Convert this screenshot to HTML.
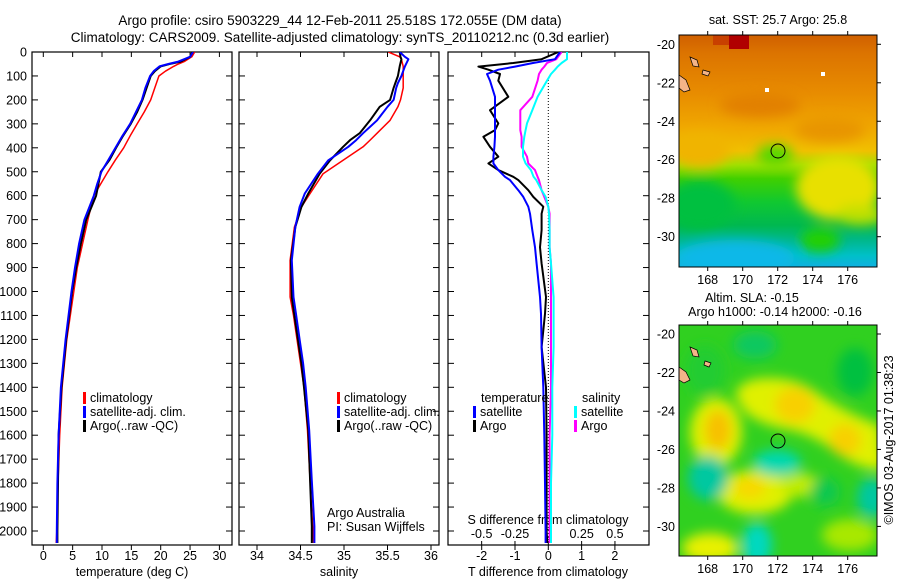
<!DOCTYPE html>
<html><head><meta charset="utf-8">
<style>
html,body{margin:0;padding:0;background:#fff;}
svg{display:block;font-family:"Liberation Sans",Arial,sans-serif;}
</style></head>
<body>
<svg id="chart" width="900" height="580" viewBox="0 0 900 580" xmlns="http://www.w3.org/2000/svg">
<defs>
  <clipPath id="c1"><rect x="32" y="52" width="200" height="493"/></clipPath>
  <clipPath id="c2"><rect x="239" y="52" width="200" height="493"/></clipPath>
  <clipPath id="c3"><rect x="448" y="52" width="201" height="493"/></clipPath>
  <clipPath id="m1"><rect x="679" y="35" width="198" height="232"/></clipPath>
  <clipPath id="m2"><rect x="679" y="325" width="198" height="231"/></clipPath>
  <filter id="blur8" x="-50%" y="-50%" width="200%" height="200%"><feGaussianBlur stdDeviation="8"/></filter>
  <filter id="blur6" x="-50%" y="-50%" width="200%" height="200%"><feGaussianBlur stdDeviation="6"/></filter>
  <linearGradient id="sstg" x1="0" y1="0" x2="0" y2="1">
    <stop offset="0" stop-color="#d06000"/>
    <stop offset="0.08" stop-color="#dc7400"/>
    <stop offset="0.25" stop-color="#e88c00"/>
    <stop offset="0.4" stop-color="#f0a800"/>
    <stop offset="0.5" stop-color="#f0c000"/>
    <stop offset="0.56" stop-color="#a0e000"/>
    <stop offset="0.62" stop-color="#40d000"/>
    <stop offset="0.72" stop-color="#10c830"/>
    <stop offset="0.82" stop-color="#00b850"/>
    <stop offset="0.89" stop-color="#00b890"/>
    <stop offset="0.95" stop-color="#00c0c8"/>
    <stop offset="1" stop-color="#10b0e0"/>
  </linearGradient>
</defs>

<text x="340" y="25" font-size="13.5" text-anchor="middle">Argo profile: csiro 5903229_44 12-Feb-2011 25.518S 172.055E (DM data)</text>
<text x="340" y="42" font-size="13.5" text-anchor="middle">Climatology: CARS2009. Satellite-adjusted climatology: synTS_20110212.nc (0.3d earlier)</text>

<g id="p1"></g>
<g id="p2"></g>
<g id="p3"></g>

<!-- SST map -->
<g>
  <text x="778" y="24" font-size="12.5" text-anchor="middle">sat. SST: 25.7 Argo: 25.8</text>
  <g clip-path="url(#m1)">
    <rect x="679" y="35" width="198" height="232" fill="url(#sstg)"/>
    <g filter="url(#blur6)">
      <ellipse cx="838" cy="188" rx="42" ry="32" fill="#e8e000"/>
      <ellipse cx="860" cy="215" rx="25" ry="10" fill="#c0e000"/>
      <ellipse cx="700" cy="150" rx="30" ry="18" fill="#f0b400"/>
      <ellipse cx="700" cy="205" rx="35" ry="25" fill="#00c040"/>
      <ellipse cx="735" cy="258" rx="60" ry="18" fill="#10b8e8"/>
      <ellipse cx="760" cy="105" rx="40" ry="12" fill="#e28000"/>
      <ellipse cx="830" cy="130" rx="35" ry="12" fill="#e89400"/>
      <ellipse cx="775" cy="155" rx="18" ry="10" fill="#50d800"/>
      <ellipse cx="820" cy="240" rx="20" ry="12" fill="#20d000"/>
    </g>
    <rect x="729" y="35" width="20" height="14" fill="#b00000"/>
    <rect x="713" y="35" width="16" height="10" fill="#c84000"/>
    <path d="M679,75 L686,80 L690,90 L684,92 L679,88 Z" fill="#f4b488" stroke="#000" stroke-width="0.7"/>
    <path d="M690,57 L697,60 L699,67 L693,66 Z" fill="#f4b488" stroke="#000" stroke-width="0.7"/>
    <path d="M703,70 L710,72 L708,76 L702,74 Z" fill="#f4b488" stroke="#000" stroke-width="0.7"/>
    <rect x="765" y="88" width="4" height="4" fill="#fff"/>
    <rect x="821" y="72" width="4" height="4" fill="#fff"/>
  </g>
  <rect x="679" y="35" width="198" height="232" fill="none" stroke="#000" stroke-width="1"/>
  <circle cx="778" cy="151" r="7" fill="none" stroke="#000" stroke-width="1"/>
  <g id="m1ax"></g>
</g>

<!-- SLA map -->
<g>
  <text x="752" y="302" font-size="12.5" text-anchor="middle">Altim. SLA: -0.15</text>
  <text x="775" y="316" font-size="12.5" text-anchor="middle">Argo h1000: -0.14 h2000: -0.16</text>
  <g clip-path="url(#m2)">
    <rect x="679" y="325" width="198" height="231" fill="#30d020"/>
    <g filter="url(#blur6)">
      <path d="M735,395 Q740,378 770,378 Q800,378 820,395 Q850,415 880,425 L885,470 Q860,470 840,455 Q815,435 790,430 Q760,425 745,412 Z" fill="#e0f000"/>
      <ellipse cx="795" cy="405" rx="20" ry="18" fill="#f8d000"/>
      <ellipse cx="845" cy="440" rx="16" ry="16" fill="#f8d000"/>
      <ellipse cx="716" cy="432" rx="26" ry="34" fill="#e0f000"/>
      <ellipse cx="718" cy="430" rx="13" ry="20" fill="#f8c000"/>
      <ellipse cx="755" cy="492" rx="38" ry="22" fill="#e0f000"/>
      <ellipse cx="750" cy="488" rx="16" ry="11" fill="#f8d800"/>
      <ellipse cx="710" cy="548" rx="28" ry="15" fill="#e8f000"/>
      <ellipse cx="800" cy="485" rx="20" ry="12" fill="#c0ec00"/>
      <ellipse cx="850" cy="535" rx="28" ry="16" fill="#a8e800"/>
      <ellipse cx="777" cy="463" rx="24" ry="13" fill="#00d8b0"/>
      <ellipse cx="708" cy="478" rx="20" ry="22" fill="#00c8a0"/>
      <ellipse cx="757" cy="545" rx="15" ry="22" fill="#00d8c0"/>
      <ellipse cx="855" cy="372" rx="18" ry="24" fill="#00c040"/>
      <ellipse cx="872" cy="498" rx="15" ry="20" fill="#00c8a0"/>
      <ellipse cx="755" cy="345" rx="22" ry="14" fill="#10c860"/>
      <ellipse cx="825" cy="492" rx="15" ry="14" fill="#10c850"/>
      <ellipse cx="705" cy="370" rx="20" ry="25" fill="#20cc30"/>
    </g>
    <path d="M679,367 L686,372 L690,380 L684,383 L679,380 Z" fill="#f4b488" stroke="#000" stroke-width="0.7"/>
    <path d="M690,347 L697,350 L699,357 L693,356 Z" fill="#f4b488" stroke="#000" stroke-width="0.7"/>
    <path d="M705,361 L711,363 L709,367 L704,365 Z" fill="#f4b488" stroke="#000" stroke-width="0.7"/>
  </g>
  <rect x="679" y="325" width="198" height="231" fill="none" stroke="#000" stroke-width="1"/>
  <circle cx="778" cy="441" r="7" fill="none" stroke="#000" stroke-width="1"/>
  <g id="m2ax"></g>
</g>

<text transform="translate(893,440) rotate(-90)" font-size="12.5" text-anchor="middle">©IMOS 03-Aug-2017 01:38:23</text>

<script>
// ---- axis ticks ----
const depthTicks = [0,100,200,300,400,500,600,700,800,900,1000,1100,1200,1300,1400,1500,1600,1700,1800,1900,2000];
const tempTicks = [0,5,10,15,20,25,30];
const salTicks = [34,34.5,35,35.5,36];
const dTTicks = [-2,-1,0,1,2];
const dSTicks = [-0.5,-0.25,0,0.25,0.5];
const dSTickLabels = ["-0.5","-0.25","0","0.25","0.5"];

// ---- temperature profiles ----
const depthsT = [0,20,40,50,60,80,100,150,200,250,300,350,400,450,500,550,600,700,800,900,1000,1200,1400,1600,1800,2000,2050];
const climT = [25.8,25.3,24,23,22.2,20.8,19.7,19,18.3,17.2,16,14.8,13.7,12.3,11,9.8,8.6,7.6,6.7,5.8,5.2,4,3.2,2.8,2.5,2.3,2.2];
const satT  = [25.5,25,23,21.3,19.8,18.8,18.2,17.4,16.8,15.8,14.8,13.5,12.3,11.1,9.9,9.2,8.6,7,6.1,5.4,4.8,3.8,3,2.6,2.4,2.3,2.3];
const argoT = [25.4,25,23.4,21.5,20,19,18.3,17.6,16.9,16,14.9,13.6,12.4,11.3,9.8,9.4,9,7.3,6.4,5.6,4.9,3.9,3.1,2.6,2.5,2.4,2.4];

// ---- salinity profiles ----
const depthsS = [0,20,30,60,100,130,150,200,229,285,339,368,396,452,508,591,647,731,870,1023,1100,1200,1300,1400,1580,1790,1980,2050];
const climS = [35.51,35.64,35.66,35.68,35.68,35.68,35.68,35.65,35.62,35.53,35.38,35.3,35.22,34.99,34.76,34.61,34.51,34.43,34.38,34.38,34.42,34.46,34.5,34.54,34.58,34.61,34.64,34.65];
const satS  = [35.64,35.7,35.74,35.7,35.66,35.62,35.6,35.57,35.5,35.38,35.22,35.14,35.05,34.82,34.70,34.55,34.49,34.44,34.40,34.42,34.45,34.49,34.53,34.56,34.6,34.63,34.66,34.66];
const argoS = [35.64,35.65,35.66,35.64,35.62,35.59,35.57,35.53,35.41,35.3,35.18,35.07,34.99,34.84,34.72,34.59,34.51,34.44,34.39,34.40,34.43,34.47,34.51,34.54,34.59,34.61,34.63,34.63];

// ---- differences from climatology ----
const depthsD = [0,30,46,61,74,92,120,187,243,298,326,354,396,437,465,493,521,535,577,605,646,675,744,815,883,1023,1093,1232,1400,1600,1800,2000,2050];
const argoDT = [0.3,-0.2,-1.05,-2.1,-1.8,-1.45,-1.5,-1.2,-1.75,-1.5,-1.6,-1.95,-1.75,-1.5,-1.8,-1.5,-1.05,-0.9,-0.6,-0.45,-0.15,-0.2,-0.2,-0.25,-0.2,-0.07,-0.1,-0.2,-0.07,-0.05,-0.05,-0.05,-0.03];
const satDT  = [0.35,0.2,-0.46,-1.0,-1.5,-1.84,-1.75,-1.6,-1.6,-1.6,-1.6,-1.6,-1.62,-1.65,-1.65,-1.5,-1.3,-1.15,-0.9,-0.75,-0.6,-0.55,-0.48,-0.4,-0.35,-0.25,-0.22,-0.2,-0.15,-0.12,-0.1,-0.08,-0.08];
const argoDS = [0.1,0.06,-0.01,-0.03,-0.05,-0.07,-0.08,-0.12,-0.21,-0.21,-0.21,-0.2,-0.2,-0.16,-0.15,-0.1,-0.08,-0.07,-0.05,-0.03,0,0.01,0.01,0.01,0.02,0.02,0.02,0.02,0.02,0.01,0.01,0.01,0.01];
const satDS  = [0.14,0.14,0.1,0.07,0.05,0.02,-0.01,-0.08,-0.12,-0.16,-0.17,-0.18,-0.19,-0.19,-0.17,-0.13,-0.11,-0.09,-0.05,-0.02,0,0.005,0.01,0.01,0.02,0.04,0.04,0.04,0.03,0.03,0.02,0.02,0.02];

// ---- map axes ----
const lonTicks = [168,170,172,174,176];
const latTicks = [-20,-22,-24,-26,-28,-30];

const NS = "http://www.w3.org/2000/svg";
function mk(tag, attrs, parent){
  const e = document.createElementNS(NS, tag);
  for (const k in attrs) e.setAttribute(k, attrs[k]);
  parent.appendChild(e);
  return e;
}
const yD = d => 52 + d * 0.2395;
const xT = t => 43.3 + t * 5.87;
const xS = s => 257 + (s - 34) * 87;
const xDT = t => 548.3 + t * 33.3;
const xDS = s => 548.3 + s * 133.3;
const PB = 545;

function frame(g, x0, x1, name){
  const r = mk('rect', {x:x0, y:52, width:x1-x0, height:PB-52, fill:'none', stroke:'#000', 'stroke-width':1.2}, g);
  
  
}
function line(g, depths, vals, fx, color, w, clip, name){
  const pts = depths.map((d,i) => fx(vals[i]).toFixed(1) + ',' + yD(d).toFixed(1)).join(' ');
  const p = mk('polyline', {points:pts, fill:'none', stroke:color, 'stroke-width':w, 'clip-path':'url(#'+clip+')', 'stroke-linejoin':'round'}, g);
  
  
}
function xTicks(g, ticks, fx, labels, ly, name, top, bottom){
  ticks.forEach((t,i) => {
    const x = fx(t);
    if (top) mk('line', {x1:x, y1:52, x2:x, y2:57, stroke:'#000'}, g);
    if (bottom) mk('line', {x1:x, y1:PB, x2:x, y2:PB+5, stroke:'#000'}, g);
    if (labels){
      const tx = mk('text', {x:x, y:ly, 'font-size':12.5, 'text-anchor':'middle'}, g);
      tx.textContent = labels[i];
      
      
    }
  });
}
function legendItem(g, x, y, color, label){
  mk('rect', {x:x, y:y-10, width:3, height:12, fill:color}, g);
  const t = mk('text', {x:x+7, y:y, 'font-size':12.5}, g);
  t.textContent = label;
  
  
}
function txt(g, x, y, s, anchor, name){
  const t = mk('text', {x:x, y:y, 'font-size':12.5, 'text-anchor':anchor||'start'}, g);
  t.textContent = s;
  
  
}

// Panel 1
const p1 = document.getElementById('p1');
frame(p1, 32, 232, 'temperature-panel');
depthTicks.forEach(d => {
  const y = yD(d);
  mk('line', {x1:32, y1:y, x2:38, y2:y, stroke:'#000'}, p1);
  mk('line', {x1:226, y1:y, x2:232, y2:y, stroke:'#000'}, p1);
  txt(p1, 27, y+4.5, String(d), 'end', 'y-axis-tick-label');
});
xTicks(p1, tempTicks, xT, tempTicks.map(String), 560, 'temperature', true, true);
txt(p1, 132, 576, 'temperature (deg C)', 'middle', 'x-axis-title-temperature');
line(p1, depthsT, climT, xT, '#ff0000', 1.5, 'c1', 'climatology-temperature-line');
line(p1, depthsT, argoT, xT, '#000', 2, 'c1', 'argo-temperature-line');
line(p1, depthsT, satT, xT, '#0000ff', 2, 'c1', 'satellite-temperature-line');
legendItem(p1, 83, 402, '#ff0000', 'climatology');
legendItem(p1, 83, 416, '#0000ff', 'satellite-adj. clim.');
legendItem(p1, 83, 430, '#000', 'Argo(..raw -QC)');

// Panel 2
const p2 = document.getElementById('p2');
frame(p2, 239, 439, 'salinity-panel');
depthTicks.forEach(d => {
  const y = yD(d);
  mk('line', {x1:239, y1:y, x2:245, y2:y, stroke:'#000'}, p2);
  mk('line', {x1:433, y1:y, x2:439, y2:y, stroke:'#000'}, p2);
});
xTicks(p2, salTicks, xS, salTicks.map(String), 560, 'salinity', true, true);
txt(p2, 339, 576, 'salinity', 'middle', 'x-axis-title-salinity');
line(p2, depthsS, climS, xS, '#ff0000', 1.5, 'c2', 'climatology-salinity-line');
line(p2, depthsS, argoS, xS, '#000', 2, 'c2', 'argo-salinity-line');
line(p2, depthsS, satS, xS, '#0000ff', 2, 'c2', 'satellite-salinity-line');
legendItem(p2, 337, 402, '#ff0000', 'climatology');
legendItem(p2, 337, 416, '#0000ff', 'satellite-adj. clim.');
legendItem(p2, 337, 430, '#000', 'Argo(..raw -QC)');
txt(p2, 327, 517, 'Argo Australia', 'start', 'credit-argo-australia');
txt(p2, 327, 531, 'PI: Susan Wijffels', 'start', 'credit-pi');

// Panel 3
const p3 = document.getElementById('p3');
frame(p3, 448, 649, 'difference-panel');
depthTicks.forEach(d => {
  const y = yD(d);
  mk('line', {x1:448, y1:y, x2:454, y2:y, stroke:'#000'}, p3);
  mk('line', {x1:643, y1:y, x2:649, y2:y, stroke:'#000'}, p3);
});
mk('line', {x1:xDT(0), y1:80, x2:xDT(0), y2:PB, stroke:'#000', 'stroke-width':1, 'stroke-dasharray':'1,2'}, p3);
xTicks(p3, dTTicks, xDT, dTTicks.map(String), 560, 'temperature-difference', true, true);
xTicks(p3, dSTicks, xDS, dSTickLabels, 538, 'salinity-difference', false, false);
dSTicks.forEach(s => mk('line', {x1:xDS(s), y1:PB-4, x2:xDS(s), y2:PB, stroke:'#000'}, p3));
txt(p3, 548, 524, 'S difference from climatology', 'middle', 'salinity-difference-axis-title');
txt(p3, 548, 576, 'T difference from climatology', 'middle', 'temperature-difference-axis-title');
line(p3, depthsD, argoDS, xDS, '#ff00ff', 2, 'c3', 'argo-salinity-difference-line');
line(p3, depthsD, satDS, xDS, '#00ffff', 2, 'c3', 'satellite-salinity-difference-line');
line(p3, depthsD, argoDT, xDT, '#000', 2, 'c3', 'argo-temperature-difference-line');
line(p3, depthsD, satDT, xDT, '#0000ff', 2, 'c3', 'satellite-temperature-difference-line');
txt(p3, 481, 402, 'temperature', 'start', 'legend-temperature-heading');
legendItem(p3, 473, 416, '#0000ff', 'satellite');
legendItem(p3, 473, 430, '#000', 'Argo');
txt(p3, 582, 402, 'salinity', 'start', 'legend-salinity-heading');
legendItem(p3, 574, 416, '#00ffff', 'satellite');
legendItem(p3, 574, 430, '#ff00ff', 'Argo');

// Map axes
function mapAxes(gid, top, bottom, lat20y, name){
  const g = document.getElementById(gid);
  const xL = lon => 707.7 + (lon - 168) * 17.5;
  const yL = lat => lat20y + (-20 - lat) * 19.24;
  lonTicks.forEach(lon => {
    const x = xL(lon);
    mk('line', {x1:x, y1:top-4, x2:x, y2:top, stroke:'#000'}, g);
    mk('line', {x1:x, y1:bottom, x2:x, y2:bottom+4, stroke:'#000'}, g);
    txt(g, x, bottom+17, String(lon), 'middle', name + '-lon-tick-label');
  });
  latTicks.forEach(lat => {
    const y = yL(lat);
    mk('line', {x1:877, y1:y, x2:881, y2:y, stroke:'#000'}, g);
    txt(g, 675, y+4.5, String(lat), 'end', name + '-lat-tick-label');
  });
}
mapAxes('m1ax', 35, 267, 44.3, 'sst-map');
mapAxes('m2ax', 325, 556, 334, 'sla-map');
</script>
</svg>
</body></html>
